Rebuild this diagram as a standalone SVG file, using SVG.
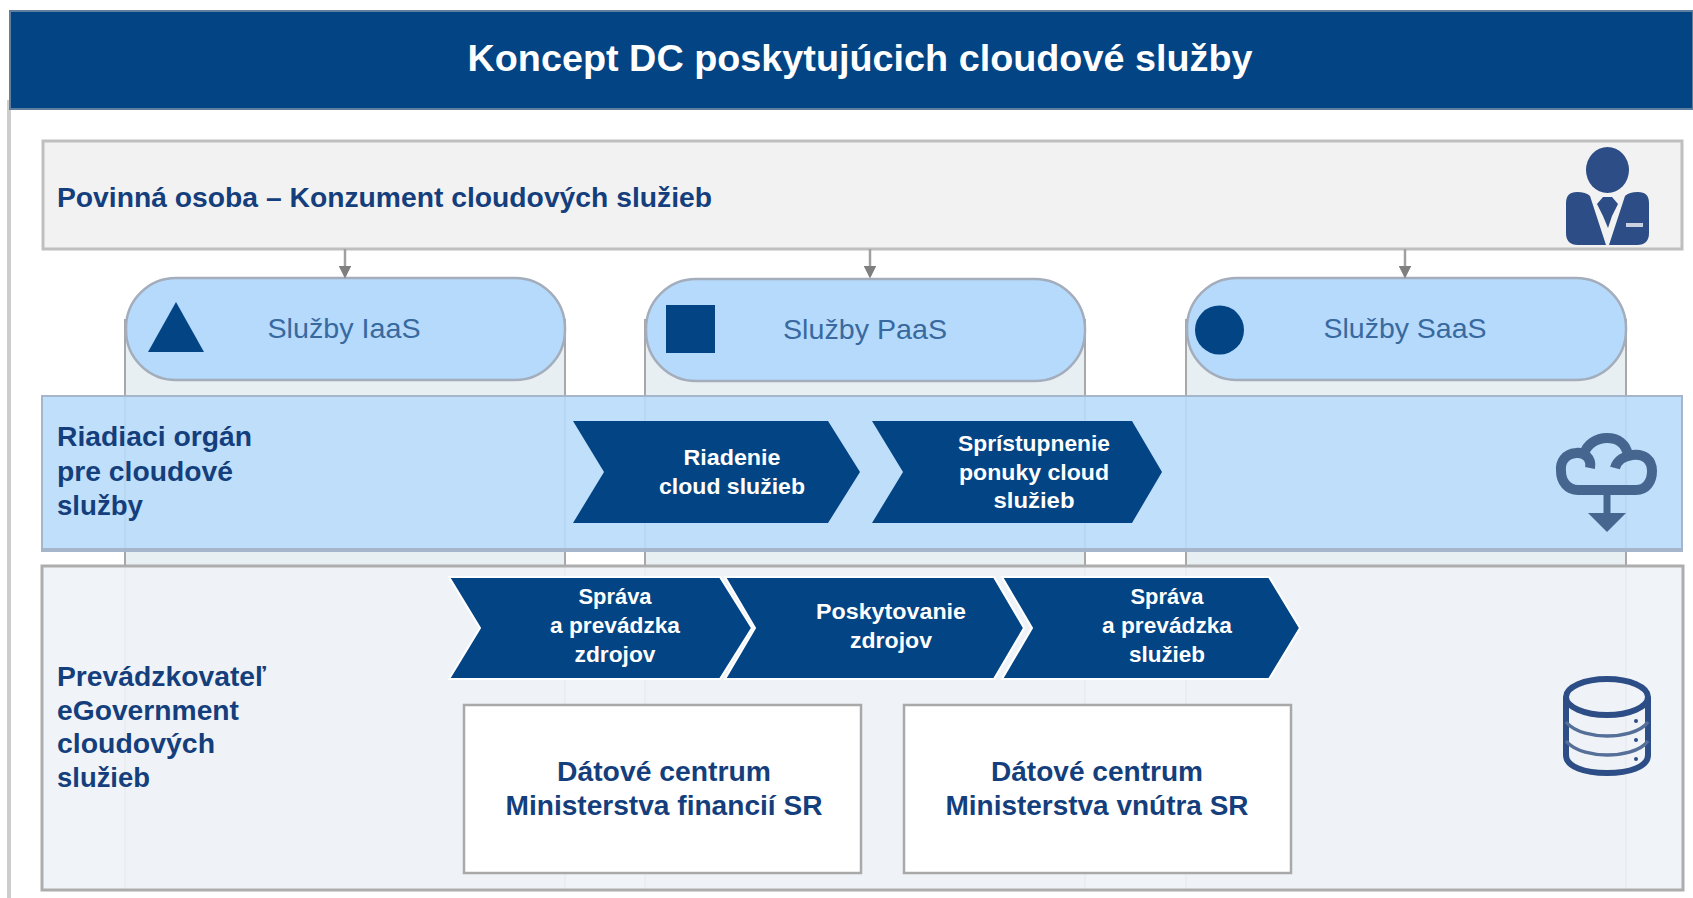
<svg xmlns="http://www.w3.org/2000/svg" width="1693" height="898" viewBox="0 0 1693 898">
<style>
text{font-family:"Liberation Sans",Arial,sans-serif}
.lab{font-size:27px;font-weight:700;fill:#143f7c}
.pill{font-size:28px;fill:#38699f;text-anchor:middle}
.chev{font-size:22px;font-weight:700;fill:#fff;text-anchor:middle}
.dc{font-size:27px;font-weight:700;fill:#143f7c;text-anchor:middle}
.col{fill:#e8eff2;stroke:#a8a8a8;stroke-width:2}
.pl{fill:#b5dafc;stroke:#a3adbb;stroke-width:2.5}
.cv{fill:#024484;stroke:#fff;stroke-width:2}
.cv2{fill:#024484}
.box{fill:#fff;stroke:#a9a9a9;stroke-width:2.5}
.ico{fill:#2c4d85}
.conn{stroke:#a0a0a0;stroke-width:2.5;fill:none;marker-end:url(#ah)}
</style>
<defs>
<marker id="ah" markerWidth="5" markerHeight="5" refX="4" refY="2.5" orient="auto"><path d="M0 0L5 2.5L0 5Z" fill="#7f7f7f"/></marker>
</defs>
<rect width="1693" height="898" fill="#fff"/>
<rect x="7" y="100" width="4" height="798" fill="#cdcdcd"/>
<g id="header">
<rect x="10" y="11" width="1683" height="98" fill="#024484" stroke="#5f7f9f" stroke-width="2"/>
<text x="860" y="71" font-size="36" font-weight="700" fill="#fff" text-anchor="middle" textLength="785" lengthAdjust="spacingAndGlyphs">Koncept DC poskytujúcich cloudové služby</text>
</g>
<g id="columns">
<rect class="col" x="125" y="320" width="440" height="570"/>
<rect class="col" x="645" y="320" width="440" height="570"/>
<rect class="col" x="1186" y="320" width="440" height="570"/>
</g>
<g id="consumer">
<rect x="43" y="141" width="1639" height="108" fill="#f2f2f2" stroke="#bfbfbf" stroke-width="3"/>
<text class="lab" x="57" y="207" textLength="655" lengthAdjust="spacingAndGlyphs">Povinná osoba – Konzument cloudových služieb</text>
<g id="person-icon">
<ellipse class="ico" cx="1607.5" cy="170" rx="21.5" ry="23"/>
<path class="ico" d="M1577 192Q1586 192 1590 196L1606 245H1578Q1566 245 1566 233V203Q1566 192 1577 192ZM1638 192Q1629 192 1625 196L1609 245H1637Q1649 245 1649 233V203Q1649 192 1638 192Z"/>
<path class="ico" d="M1603 197H1612L1618 204L1612 216L1608 228L1603 216L1597 204Z"/>
<rect x="1626" y="223" width="17" height="4" fill="#c9d2e0"/>
</g>
</g>
<g id="svc-iaas">
<rect class="pl" x="126" y="278" width="439" height="102" rx="50"/>
<path d="M176 302L204 352H148Z" fill="#024484"/>
<text class="pill" x="344" y="338" textLength="153" lengthAdjust="spacingAndGlyphs">Služby IaaS</text>
</g>
<g id="svc-paas">
<rect class="pl" x="646" y="279" width="439" height="102" rx="50"/>
<rect x="666" y="305" width="49" height="48" fill="#024484"/>
<text class="pill" x="865" y="339" textLength="164" lengthAdjust="spacingAndGlyphs">Služby PaaS</text>
</g>
<g id="svc-saas">
<rect class="pl" x="1187" y="278" width="439" height="102" rx="50"/>
<ellipse cx="1219.5" cy="330" rx="24.5" ry="24.5" fill="#024484"/>
<text class="pill" x="1405" y="338" textLength="163" lengthAdjust="spacingAndGlyphs">Služby SaaS</text>
</g>
<g id="connectors">
<path class="conn" d="M345 249V276"/>
<path class="conn" d="M870 249V276"/>
<path class="conn" d="M1405 249V276"/>
</g>
<g id="authority">
<rect x="42" y="396" width="1640" height="155" fill="#b9dcfb" fill-opacity=".9" stroke="#a6b6ca" stroke-width="2"/>
<rect x="42" y="548" width="1640" height="4" fill="#a6b6ca"/>
<text class="lab" x="57" y="446" textLength="195" lengthAdjust="spacingAndGlyphs">Riadiaci orgán</text>
<text class="lab" x="57" y="481" textLength="176" lengthAdjust="spacingAndGlyphs">pre cloudové</text>
<text class="lab" x="57" y="515" textLength="86" lengthAdjust="spacingAndGlyphs">služby</text>
<g id="cloud-icon" fill="none" stroke="#47668f" stroke-width="10">
<path d="M1590 468C1592 458 1584 452 1576 453C1565 454 1560 462 1561 471C1561 482 1568 490 1578 490H1636C1646 490 1652 482 1652 471C1652 460 1644 453 1632 455C1625 456 1617 460 1615 468"/>
<path d="M1584 455C1586 444 1597 438 1607 438C1618 438 1626 444 1628 455"/>
<path d="M1607 490V516" stroke-width="7"/>
<path d="M1588 513H1626L1607 532Z" fill="#47668f" stroke="none"/>
</g>
</g>
<g id="step-riadenie">
<path class="cv2" d="M573 421H828L860 472L828 523H573L604 472Z"/>
<text class="chev" x="732" y="465" textLength="97" lengthAdjust="spacingAndGlyphs">Riadenie</text>
<text class="chev" x="732" y="494" textLength="146" lengthAdjust="spacingAndGlyphs">cloud služieb</text>
</g>
<g id="step-spristupnenie">
<path class="cv2" d="M872 421H1132L1162 472L1132 523H872L903 472Z"/>
<text class="chev" x="1034" y="451" textLength="152" lengthAdjust="spacingAndGlyphs">Sprístupnenie</text>
<text class="chev" x="1034" y="480" textLength="150" lengthAdjust="spacingAndGlyphs">ponuky cloud</text>
<text class="chev" x="1034" y="508" textLength="81" lengthAdjust="spacingAndGlyphs">služieb</text>
</g>
<g id="operator">
<rect x="42" y="566" width="1641" height="324" fill="#eff3f7" fill-opacity=".93" stroke="#adadad" stroke-width="3"/>
<text class="lab" x="57" y="686" textLength="209" lengthAdjust="spacingAndGlyphs">Prevádzkovateľ</text>
<text class="lab" x="57" y="720" textLength="182" lengthAdjust="spacingAndGlyphs">eGovernment</text>
<text class="lab" x="57" y="753" textLength="158" lengthAdjust="spacingAndGlyphs">cloudových</text>
<text class="lab" x="57" y="787" textLength="93" lengthAdjust="spacingAndGlyphs">služieb</text>
<g id="db-icon" fill="none" stroke="#2c4d85">
<ellipse cx="1607" cy="697" rx="41" ry="18" stroke-width="6"/>
<path d="M1566 697V755C1566 767 1585 773 1607 773C1629 773 1648 767 1648 755V697" stroke-width="6"/>
<path d="M1566 722C1575 733 1595 736 1607 736C1620 736 1640 733 1648 722M1566 741C1575 752 1595 755 1607 755C1620 755 1640 752 1648 741" stroke-width="3.5" stroke="#566f99"/>
<circle cx="1636" cy="721" r="2" fill="#2c4d85" stroke="none"/>
<circle cx="1636" cy="740" r="2" fill="#2c4d85" stroke="none"/>
<circle cx="1636" cy="759" r="2" fill="#2c4d85" stroke="none"/>
</g>
</g>
<g id="step-sprava-zdrojov">
<path class="cv" d="M449 577H720L752 628L720 679H449L480 628Z"/>
<text class="chev" x="615" y="604" textLength="73" lengthAdjust="spacingAndGlyphs">Správa</text>
<text class="chev" x="615" y="633" textLength="130" lengthAdjust="spacingAndGlyphs">a prevádzka</text>
<text class="chev" x="615" y="662" textLength="81" lengthAdjust="spacingAndGlyphs">zdrojov</text>
</g>
<g id="step-poskytovanie">
<path class="cv" d="M725 577H994L1024 628L994 679H725L755 628Z"/>
<text class="chev" x="891" y="619" textLength="150" lengthAdjust="spacingAndGlyphs">Poskytovanie</text>
<text class="chev" x="891" y="648" textLength="82" lengthAdjust="spacingAndGlyphs">zdrojov</text>
</g>
<g id="step-sprava-sluzieb">
<path class="cv" d="M1002 577H1269L1300 628L1269 679H1002L1032 628Z"/>
<text class="chev" x="1167" y="604" textLength="73" lengthAdjust="spacingAndGlyphs">Správa</text>
<text class="chev" x="1167" y="633" textLength="130" lengthAdjust="spacingAndGlyphs">a prevádzka</text>
<text class="chev" x="1167" y="662" textLength="76" lengthAdjust="spacingAndGlyphs">služieb</text>
</g>
<g id="dc-mf">
<rect class="box" x="464" y="705" width="397" height="168"/>
<text class="dc" x="664" y="781" textLength="214" lengthAdjust="spacingAndGlyphs">Dátové centrum</text>
<text class="dc" x="664" y="815" textLength="317" lengthAdjust="spacingAndGlyphs">Ministerstva financií SR</text>
</g>
<g id="dc-mv">
<rect class="box" x="904" y="705" width="387" height="168"/>
<text class="dc" x="1097" y="781" textLength="212" lengthAdjust="spacingAndGlyphs">Dátové centrum</text>
<text class="dc" x="1097" y="815" textLength="303" lengthAdjust="spacingAndGlyphs">Ministerstva vnútra SR</text>
</g>
</svg>
